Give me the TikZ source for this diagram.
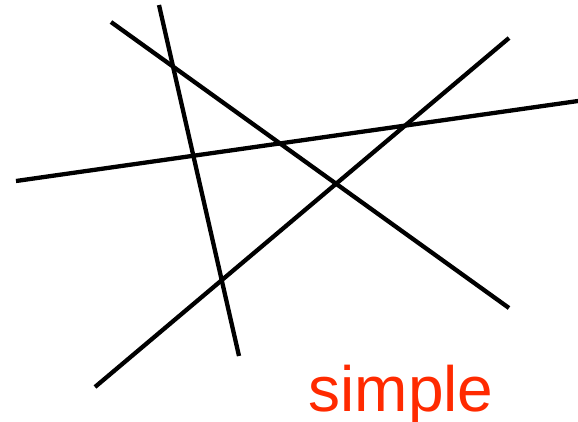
\documentclass[tikz,border=0pt]{standalone}
\usepackage{fontspec}
\setmainfont{Liberation Sans}
\definecolor{simplered}{RGB}{255,42,0}
\begin{document}
\begin{tikzpicture}[x=1pt,y=-1pt, ln/.style={line width=4.3pt, black}]
\useasboundingbox (0,0) rectangle (578,421);
\coordinate (a1) at (111,22); \coordinate (a2) at (509,308);
\coordinate (b1) at (159,5); \coordinate (b2) at (239,356);
\coordinate (c1) at (16,181); \coordinate (c2) at (578,101);
\coordinate (d1) at (95,387); \coordinate (d2) at (509,38);
\draw[ln] (a1) -- (a2);
\draw[ln] (b1) -- (b2);
\draw[ln] (c1) -- (c2);
\draw[ln] (d1) -- (d2);
\node[anchor=base, inner sep=0pt, text=simplered, font=\fontsize{64}{70}\selectfont] (t) at (401,411) {simple};
\end{tikzpicture}
\end{document}
